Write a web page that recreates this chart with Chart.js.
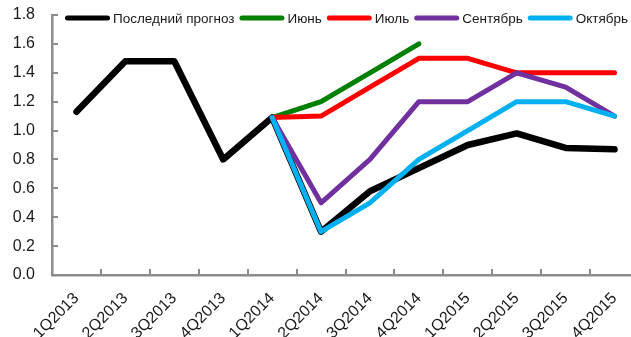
<!DOCTYPE html>
<html>
<head>
<meta charset="utf-8">
<script src="https://cdn.jsdelivr.net/npm/chart.js@4/dist/chart.umd.min.js"></script>
<style>
  html, body { margin: 0; padding: 0; background: #fff; overflow: hidden; }
  #wrap { width: 640px; height: 337px; }
</style>
</head>
<body>
<div id="wrap"><canvas id="c" width="640" height="337"></canvas></div>
<script>
// Quarters on the horizontal axis
const quarters = ['1Q2013','2Q2013','3Q2013','4Q2013','1Q2014','2Q2014','3Q2014','4Q2014','1Q2015','2Q2015','3Q2015','4Q2015'];

// Forecast vintages (null = no forecast for that quarter)
const latest    = [1.13, 1.48, 1.48, 0.80, 1.09, 0.30, 0.58, 0.74, 0.90, 0.98, 0.88, 0.87];
const june      = [null, null, null, null, 1.09, 1.20, 1.40, 1.60, null, null, null, null];
const july      = [null, null, null, null, 1.09, 1.10, 1.30, 1.50, 1.50, 1.40, 1.40, 1.40];
const september = [null, null, null, null, 1.09, 0.50, 0.80, 1.20, 1.20, 1.40, 1.30, 1.10];
const october   = [null, null, null, null, 1.09, 0.30, 0.50, 0.80, 1.00, 1.20, 1.20, 1.10];

// Y axis range
const yMin = 0, yMax = 1.8, yStep = 0.2;

const FONT = '"Liberation Sans", Arial, sans-serif';
const AXIS_GRAY = '#8c8c8c';
const CLEAR = 'rgba(0,0,0,0)';

function series(label, data, color, width, order) {
  return {
    label, data,
    borderColor: color, backgroundColor: color,
    borderWidth: width,
    borderCapStyle: 'round', borderJoinStyle: 'round',
    pointRadius: 0, pointHoverRadius: 0,
    tension: 0, spanGaps: false, order
  };
}

// Short inward tick marks on both axes
const innerTicks = {
  id: 'innerTicks',
  afterDraw(chart) {
    const { ctx, chartArea, scales } = chart;
    const x = scales.x, y = scales.y;
    ctx.save();
    ctx.strokeStyle = AXIS_GRAY;
    ctx.lineWidth = 2;
    ctx.beginPath();
    for (let i = 1; i <= quarters.length; i++) {
      const px = Math.round(x.getPixelForValue(i - 0.5));
      ctx.moveTo(px, chartArea.bottom);
      ctx.lineTo(px, chartArea.bottom - 6);
    }
    y.ticks.forEach(t => {
      const py = Math.round(y.getPixelForValue(t.value));
      ctx.moveTo(chartArea.left, py);
      ctx.lineTo(chartArea.left + 6, py);
    });
    ctx.stroke();
    ctx.restore();
  }
};

// Legend row laid over the top of the plot
const lineLegend = {
  id: 'lineLegend',
  afterDraw(chart) {
    const ctx = chart.ctx;
    ctx.save();
    ctx.font = '13.5px ' + FONT;
    ctx.textBaseline = 'middle';
    ctx.textAlign = 'left';
    let x = 65;
    const yMid = 18;
    chart.data.datasets.forEach(ds => {
      ctx.strokeStyle = ds.borderColor;
      ctx.lineWidth = 5;
      ctx.lineCap = 'round';
      ctx.beginPath();
      ctx.moveTo(x + 2.5, yMid);
      ctx.lineTo(x + 42.5, yMid);
      ctx.stroke();
      x += 48;
      ctx.fillStyle = '#1a1a1a';
      ctx.fillText(ds.label, x, yMid + 1);
      x += ctx.measureText(ds.label).width + 5;
    });
    ctx.restore();
  }
};

new Chart(document.getElementById('c'), {
  type: 'line',
  data: {
    labels: quarters,
    datasets: [
      series('Последний прогноз', latest, '#000000', 6.5, 5),
      series('Июнь', june, '#008000', 5, 4),
      series('Июль', july, '#ff0000', 5, 3),
      series('Сентябрь', september, '#7030a0', 5, 2),
      series('Октябрь', october, '#00b0f0', 5, 1)
    ]
  },
  options: {
    responsive: false,
    animation: false,
    layout: { padding: { top: 15, right: 1, left: 0, bottom: 0 } },
    plugins: { legend: { display: false }, tooltip: { enabled: false } },
    scales: {
      x: {
        offset: true,
        grid: { display: true, drawOnChartArea: false, drawTicks: true, tickLength: 14, color: CLEAR },
        border: { display: true, color: AXIS_GRAY, width: 2.5 },
        ticks: {
          autoSkip: false, minRotation: 45, maxRotation: 45,
          padding: 0,
          color: '#1a1a1a',
          font: { family: FONT, size: 16 }
        },
        afterFit(s) { s.height = 62; }
      },
      y: {
        min: yMin, max: yMax,
        grid: { display: true, drawOnChartArea: false, drawTicks: true, tickLength: 17, color: CLEAR },
        border: { display: true, color: AXIS_GRAY, width: 2.5 },
        ticks: {
          stepSize: yStep,
          padding: 0,
          color: '#1a1a1a',
          font: { family: FONT, size: 16 },
          callback: v => Number(v).toFixed(1)
        },
        afterFit(s) { s.width = 52; }
      }
    }
  },
  plugins: [innerTicks, lineLegend]
});
</script>
</body>
</html>
